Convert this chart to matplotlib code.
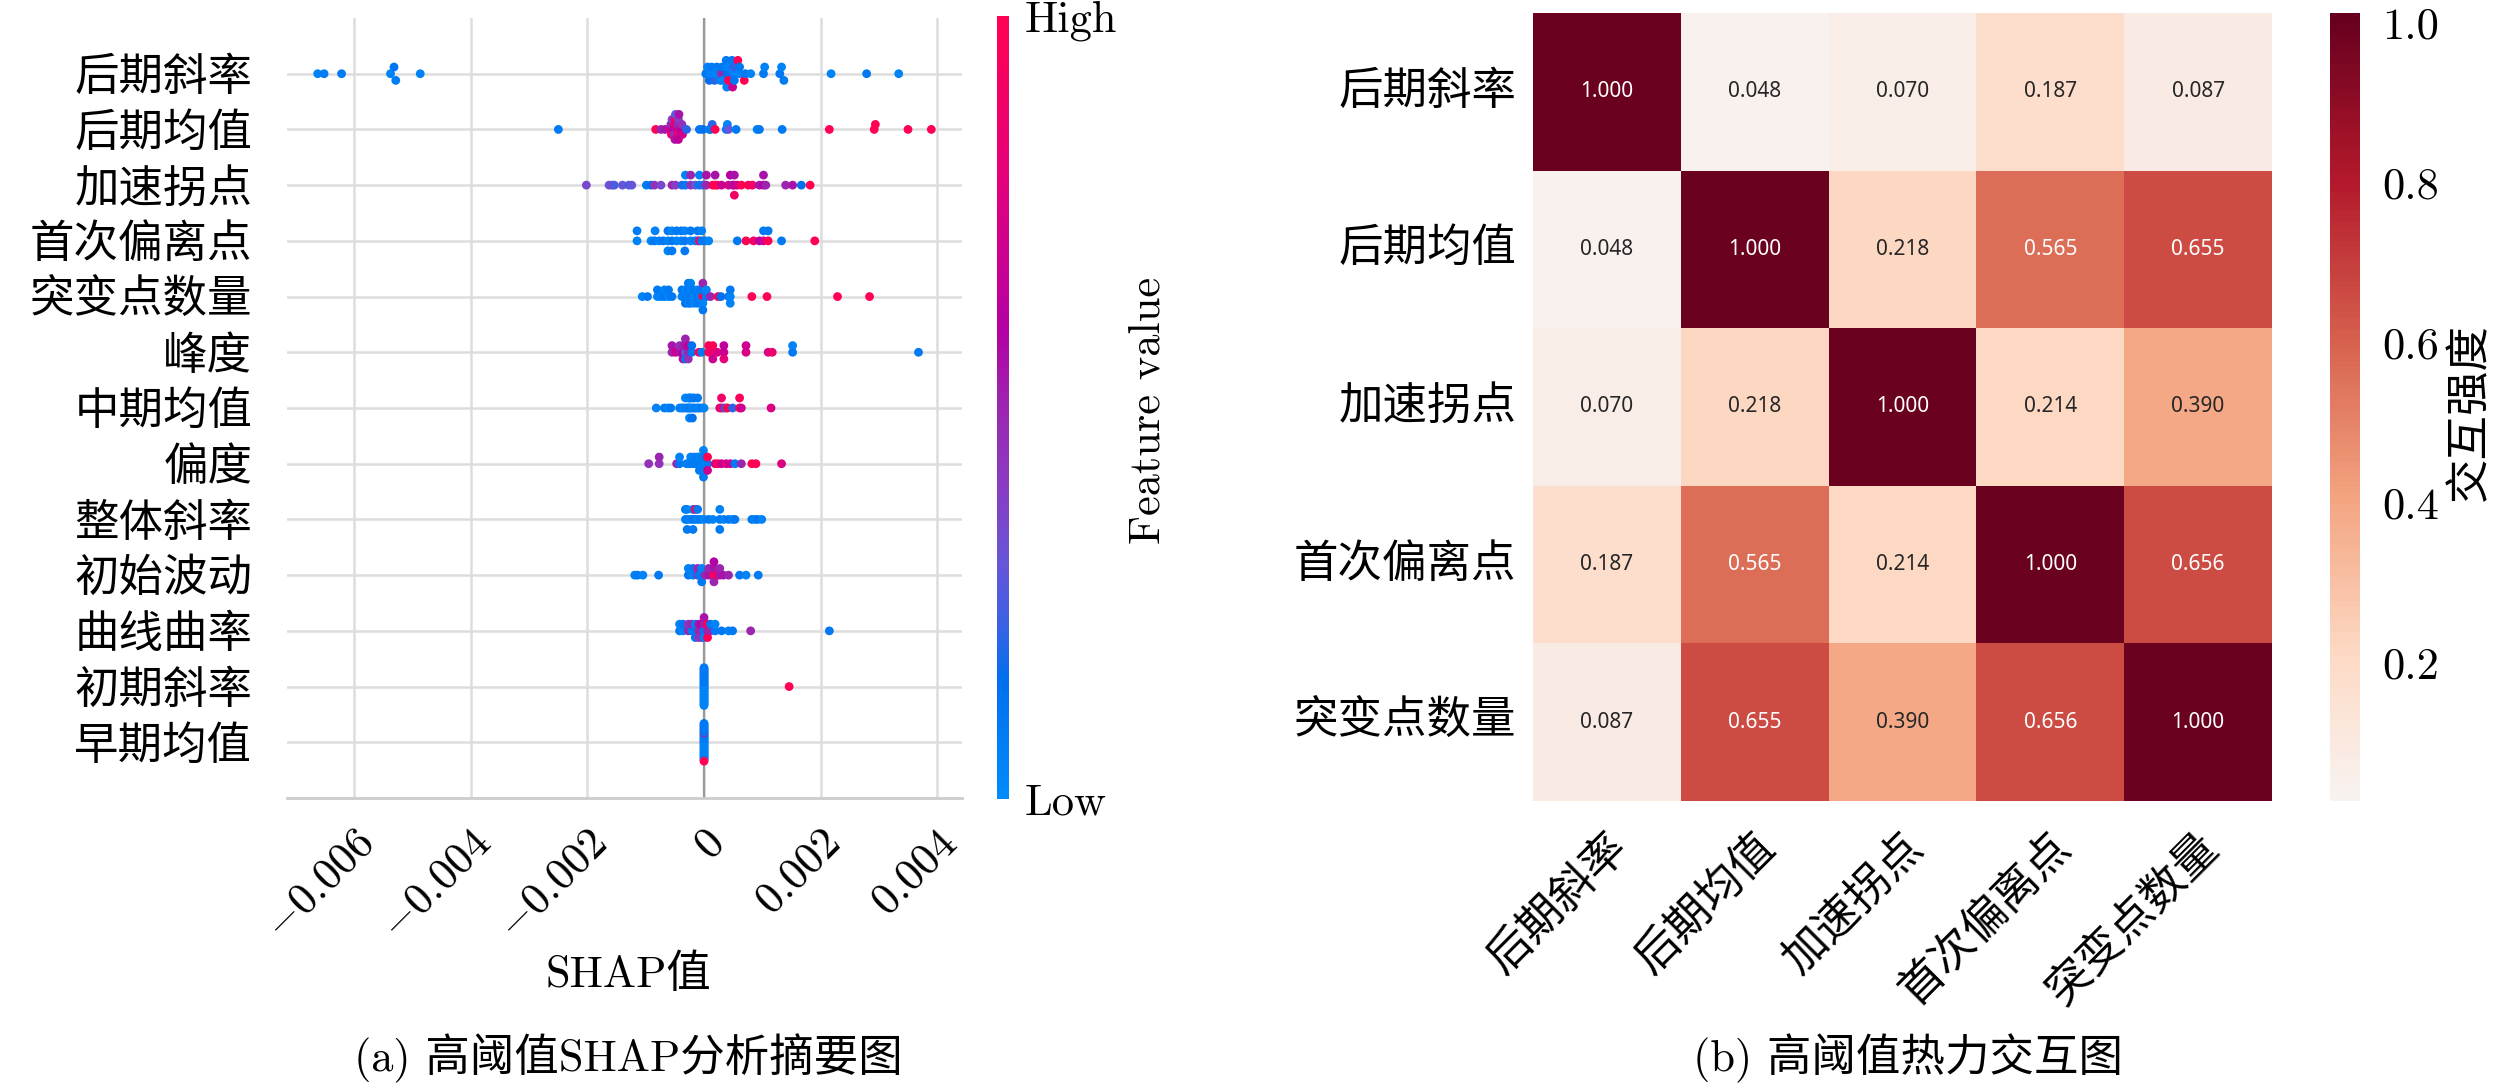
import numpy as np
import matplotlib
matplotlib.use("Agg")
import matplotlib.pyplot as plt
from matplotlib.colors import LinearSegmentedColormap
from matplotlib.cm import ScalarMappable
import seaborn as sns

# ---------------- data ----------------
# (a) SHAP summary: features top -> bottom, SHAP values in units of 1e-5,
# feature values scaled to 0 (low) .. 1 (high)
shap_unit = 1e-5
features = ["后期斜率", "后期均值", "加速拐点", "首次偏离点", "突变点数量", "峰度", "中期均值",
            "偏度", "整体斜率", "初始波动", "曲线曲率", "初期斜率", "早期均值"]

late_slope = [-663, -652, -622, -538, -532, -529, -487,
              3, 6, 9, 11, 13, 18, 20, 22, 28, 30, 31, 32, 38, 39, 40, 41, 42, 48,
              49, 50, 51, 52, 58, 60, 61, 69, 71, 80,
              102, 104, 130, 133, 137, 218, 279, 334]
late_slope_fv = [0.05, 0.08, 0.1, 0.05, 0.12, 0.08, 0.05,
                 0.1, 0.05, 0.15, 0.05, 0.1, 0.2, 0.05, 0.1, 0.05, 0.5, 0.1, 0.05, 0.1, 0.05, 0.15, 0.05, 1.0, 0.1,
                 0.7, 0.05, 0.2, 0.1, 1.0, 0.05, 0.1, 1.0, 0.1, 0.05,
                 0.1, 0.05, 0.1, 0.05, 0.08, 0.05, 0.1, 0.05]

late_mean = [-250, -83, -74, -67,
             -58, -57, -56, -55, -52, -51, -51, -50, -50, -49, -46, -45, -45, -44, -44, -43, -39, -38, -37,
             -30, -8, -2, 9, 11, 14, 19, 38, 40, 42, 55, 91, 95, 134, 215, 292, 294, 350, 390]
late_mean_fv = [0.1, 1.0, 0.5, 0.55,
                0.7, 0.5, 0.9, 0.35, 0.6, 0.75, 0.45, 0.9, 0.55, 0.3, 0.7, 0.5, 0.8, 0.4, 0.65, 0.55, 0.6, 0.45, 0.7,
                0.2, 0.1, 0.15, 0.05, 0.1, 0.2, 1.0, 0.1, 0.05, 0.3, 0.1, 0.05, 0.1, 0.1, 1.0, 1.0, 1.0, 1.0, 1.0]

accel_point = [-202, -163, -158, -154, -140, -129, -124, -99, -91, -85, -74, -55, -49, -38,
               -32, -32, -23, -23, -15, -8, -8, -2, 4, 4, 15, 19, 19, 23, 30, 42, 45, 49,
               52, 52, 52, 57, 64, 76, 83, 95, 102, 102, 106, 140, 152, 167, 182]
accel_point_fv = [0.35, 0.3, 0.35, 0.25, 0.3, 0.25, 0.3, 0.1, 0.15, 0.45, 0.35, 0.5, 0.4, 0.2,
                  0.1, 0.05, 0.45, 0.5, 0.3, 0.1, 0.05, 0.2, 0.5, 0.55, 0.95, 1.0, 0.55, 1.0, 0.7, 0.75, 0.6, 0.55,
                  0.65, 0.55, 0.9, 0.7, 1.0, 1.0, 0.9, 0.55, 0.6, 0.55, 0.5, 0.5, 0.55, 0.15, 1.0]

first_dev = [-115, -115, -91, -85, -84, -77, -70,
             -62, -62, -62, -55, -55, -55, -47, -47, -39, -39,
             -33, -33, -33, -23, -23, -15, -11, -11, -8, -4, -4,
             2, 8, 57, 72, 85, 95, 102, 102, 110, 110, 133, 190]
first_dev_fv = [0.05, 0.08, 0.05, 0.1, 0.05, 0.05, 0.1,
                0.05, 0.1, 0.05, 0.1, 0.05, 0.1, 0.05, 0.1, 0.05, 0.1,
                0.1, 0.05, 0.1, 0.05, 0.1, 0.1, 0.05, 0.1, 1.0, 0.1, 0.05,
                0.1, 0.05, 0.1, 1.0, 0.9, 0.6, 0.7, 0.1, 1.0, 0.1, 0.1, 1.0]

n_change = [-106, -97,
            -80, -80, -74, -68, -68, -61, -61, -55,
            -38, -38, -32, -32, -32, -27, -27, -27, -27, -23, -23, -23, -23,
            -17, -17, -17, -11, -11, -11, -6, -6, -2, -2, -2, -2, -2, 4, 4,
            11, 24, 29, 42, 45, 45, 45, 82, 108, 229, 284]
n_change_fv = [0.05, 0.1,
               0.05, 0.1, 0.05, 0.1, 0.05, 0.05, 0.1, 0.1,
               0.05, 0.1, 0.1, 0.05, 0.15, 0.05, 0.1, 0.05, 0.1, 0.1, 0.05, 0.1, 0.05,
               0.05, 0.1, 0.05, 0.1, 0.05, 0.1, 0.05, 0.1, 1.0, 0.1, 0.05, 0.5, 0.1, 0.1, 0.05,
               0.5, 1.0, 0.15, 0.1, 0.05, 0.1, 0.05, 1.0, 1.0, 1.0, 1.0]

kurtosis = [-55, -55, -49, -42, -42, -36, -36, -36, -32, -32, -32, -32, -27, -27, -27,
            -21, -21, -9, -4, 8, 8, 15, 15, 15, 23, 34, 34, 34, 72, 72, 110, 117, 152, 152, 368]
kurtosis_fv = [0.5, 0.55, 0.7, 0.55, 0.45, 0.6, 0.5, 0.7, 0.3, 0.55, 0.1, 0.5, 0.5, 0.65, 0.45,
               0.1, 0.15, 1.0, 0.1, 1.0, 0.95, 0.85, 1.0, 0.7, 0.75, 0.7, 0.65, 0.8, 0.75, 0.7, 0.75, 0.85,
               0.1, 0.05, 0.1]

mid_mean = [-82, -68, -62, -57, -42, -38, -36, -32, -32, -29, -27, -27, -25, -25, -25,
            -23, -23, -20, -20, -20, -17, -17, -14, -11, -11, -8, -4, 0,
            27, 30, 30, 34, 38, 40, 49, 61, 61, 64, 115]
mid_mean_fv = [0.05, 0.1, 0.05, 0.1, 0.05, 0.1, 0.05, 0.1, 0.05, 0.05, 0.1, 0.05, 0.05, 0.1, 0.05,
               0.1, 0.05, 0.05, 0.1, 0.15, 0.05, 0.1, 0.1, 0.05, 0.1, 0.05, 0.1, 0.05,
               0.7, 1.0, 0.9, 0.5, 0.1, 1.0, 0.2, 1.0, 0.95, 0.7, 0.75]

skewness = [-95, -77, -77, -47, -42, -42, -30, -27, -23, -23, -17, -17, -11, -11,
            -8, -8, -8, -4, -4, -4, -1, -1, -1, -1, -1, 2, 2, 2, 6, 6, 6,
            19, 24, 30, 38, 45, 53, 64, 82, 89, 133]
skewness_fv = [0.45, 0.45, 0.5, 0.5, 0.1, 0.05, 0.1, 0.05, 0.1, 0.05, 0.1, 0.05, 0.05, 0.1,
               0.1, 0.05, 0.1, 0.05, 0.1, 0.05, 0.1, 0.05, 0.1, 0.05, 0.1, 0.05, 0.1, 0.05, 0.1, 1.0, 0.7,
               0.75, 1.0, 0.7, 0.75, 0.7, 0.1, 0.5, 1.0, 1.0, 0.75]

overall_slope = [-32, -32, -29, -29, -29, -24, -19, -19, -19, -15, -15, -11, -11,
                 -6, 0, 8, 15, 27, 27, 27, 34, 42, 49, 53, 82, 87, 92, 99]
overall_slope_fv = [0.05, 0.1, 0.1, 0.05, 0.1, 0.05, 0.1, 0.05, 0.1, 0.1, 1.0, 0.05, 0.1,
                    0.1, 0.05, 0.1, 0.05, 0.1, 0.05, 0.1, 0.05, 0.1, 0.05, 0.1, 0.1, 0.05, 0.1, 0.05]

init_fluct = [-119, -114, -105, -78, -27, -27, -19, -19, -11, -11, -8, -4, -4, -4,
              2, 8, 8, 17, 17, 17, 17, 23, 27, 27, 33, 42, 61, 72, 93]
init_fluct_fv = [0.05, 0.1, 0.05, 0.1, 0.1, 0.05, 0.05, 0.1, 0.45, 0.5, 0.1, 0.1, 0.05, 0.1,
                 0.5, 0.55, 0.5, 1.0, 0.55, 0.5, 0.6, 0.9, 0.55, 0.5, 0.55, 0.5, 0.1, 0.05, 0.1]

curvature = [-42, -42, -36, -36, -27, -27, -21, -21, -15, -15, -15, -9, -9, -9, -4, -4, -4,
             0, 0, 0, 0, 6, 6, 6, 11, 11, 19, 19, 30, 42, 49, 80, 215]
curvature_fv = [0.1, 0.05, 0.05, 0.1, 0.5, 0.45, 0.1, 0.5, 0.1, 0.05, 0.1, 0.5, 0.55, 0.45, 0.5, 0.6, 0.45,
                0.1, 0.5, 0.05, 0.55, 0.5, 1.0, 1.0, 0.5, 0.1, 0.1, 0.05, 0.1, 0.05, 0.1, 0.5, 0.1]

early_slope = [0, 0, 0, 0, 0, 0, 0, 0, 0, 0, 0, 0, 0, 0, 0, 0, 0, 0, 0, 0,
               0, 0, 0, 0, 0, 0, 0, 0, 0, 0, 0, 0, 0, 146]
early_slope_fv = [0.05, 0.1, 0.05, 0.1, 0.05, 0.1, 0.05, 0.1, 0.05, 0.1, 0.05, 0.1, 0.05, 0.1, 0.05, 0.1, 0.05, 0.1, 0.05, 0.1,
                  0.05, 0.1, 0.05, 0.1, 0.05, 0.1, 0.05, 0.1, 0.05, 0.1, 0.05, 0.1, 0.05, 1.0]

early_mean = [0, 0, 0, 0, 0, 0, 0, 0, 0, 0, 0, 0, 0, 0, 0, 0, 0, 0, 0, 0,
              0, 0, 0, 0, 0, 0, 0, 0, 0, 0, 0, 0, 0]
early_mean_fv = [0.05, 0.1, 0.05, 0.1, 0.05, 0.1, 0.05, 0.1, 0.05, 0.1, 0.05, 0.1, 0.05, 0.1, 0.05, 0.5, 0.05, 0.1, 0.05, 0.1,
                 0.05, 0.1, 0.05, 0.1, 0.05, 0.1, 0.05, 0.1, 0.05, 0.1, 0.05, 0.1, 1.0]

shap_rows = [late_slope, late_mean, accel_point, first_dev, n_change, kurtosis, mid_mean,
             skewness, overall_slope, init_fluct, curvature, early_slope, early_mean]
fv_rows = [late_slope_fv, late_mean_fv, accel_point_fv, first_dev_fv, n_change_fv, kurtosis_fv, mid_mean_fv,
           skewness_fv, overall_slope_fv, init_fluct_fv, curvature_fv, early_slope_fv, early_mean_fv]

xticks = [-0.006, -0.004, -0.002, 0, 0.002, 0.004]
xtick_labels = ["$-0.006$", "$-0.004$", "$-0.002$", "$0$", "$0.002$", "$0.004$"]

# (b) interaction heatmap
heat_labels = ["后期斜率", "后期均值", "加速拐点", "首次偏离点", "突变点数量"]
heat_values = np.array([
    [1.000, 0.048, 0.070, 0.187, 0.087],
    [0.048, 1.000, 0.218, 0.565, 0.655],
    [0.070, 0.218, 1.000, 0.214, 0.390],
    [0.187, 0.565, 0.214, 1.000, 0.656],
    [0.087, 0.655, 0.390, 0.656, 1.000],
])
heat_cbar_ticks = [0.2, 0.4, 0.6, 0.8, 1.0]
heat_vmin, heat_vmax = 0.028, 1.012

# ---------------- style ----------------
sns.set_style("whitegrid")
plt.rcParams["font.family"] = ["cmr10", "DejaVu Serif", "Noto Sans CJK SC"]
plt.rcParams["mathtext.fontset"] = "cm"
plt.rcParams["axes.unicode_minus"] = False
for key in ["text.color", "axes.labelcolor", "xtick.color", "ytick.color"]:
    plt.rcParams[key] = "black"

FS = 32
W, H = 2520, 1087
fig = plt.figure(figsize=(W / 100, H / 100), dpi=100)


def rect(x0, y0, x1, y1):
    # pixel box (top-left origin) -> figure fraction
    return [x0 / W, 1 - y1 / H, (x1 - x0) / W, (y1 - y0) / H]


shap_cmap = LinearSegmentedColormap.from_list("shap_red_blue", [
    (0.0, "#008bfb"), (0.15, "#0070ef"), (0.22, "#3a62e4"), (0.3, "#6655d8"),
    (0.4, "#8a3cc2"), (0.5, "#9c26b0"), (0.6, "#b400a4"), (0.8, "#e6007a"), (1.0, "#ff0052")])


def swarm_offsets(vals, nbins=100, row_height=0.4):
    # beeswarm layering as in shap's summary plot
    vals = np.asarray(vals, float)
    quant = np.round(nbins * (vals - vals.min()) / (vals.max() - vals.min() + 1e-8))
    order = np.argsort(quant, kind="stable")
    ys = np.zeros(len(vals))
    layer, last = 0, None
    for k in order:
        if quant[k] != last:
            layer = 0
        ys[k] = np.ceil(layer / 2) * ((layer % 2) * 2 - 1)
        layer += 1
        last = quant[k]
    ys *= 0.9 * (row_height / np.max(ys + 1))
    return ys


# ---------------- (a) SHAP summary ----------------
ax = fig.add_axes(rect(287, 18, 962, 798))
n = len(features)
for i, (sv, fv) in enumerate(zip(shap_rows, fv_rows)):
    pos = n - 1 - i
    x = np.asarray(sv, float) * shap_unit
    ax.scatter(x, pos + swarm_offsets(x), c=fv, cmap=shap_cmap, vmin=0, vmax=1,
               s=40, linewidths=0, zorder=3)
ax.axvline(0, color="#999999", lw=1.6, zorder=2)
ax.set_ylim(-1, n)
ax.set_yticks(range(n))
ax.set_yticklabels(features[::-1], fontsize=FS)
ax.set_xticks(xticks)
ax.set_xticklabels(xtick_labels, fontsize=FS, rotation=45, ha="right", rotation_mode="anchor")
ax.grid(True, color="#dddddd", lw=1.8)
ax.set_axisbelow(True)
for side in ["left", "top", "right"]:
    ax.spines[side].set_visible(False)
ax.spines["bottom"].set_color("#cccccc")
ax.spines["bottom"].set_linewidth(2)
ax.tick_params(axis="y", length=0, pad=25)
ax.tick_params(axis="x", length=0, pad=18)

cax = fig.add_axes(rect(997, 16, 1009, 799))
sm = ScalarMappable(cmap=shap_cmap, norm=plt.Normalize(0, 1))
cb = fig.colorbar(sm, cax=cax, ticks=[0, 1])
cb.set_ticklabels(["Low", "High"])
cb.outline.set_visible(False)
cax.tick_params(length=0, labelsize=FS, pad=11)
fig.text(1148 / W, 1 - 410 / H, "Feature value", rotation=90, ha="center", va="center", fontsize=FS)
fig.text(628 / W, 1 - 975 / H, "SHAP值", ha="center", va="center", fontsize=FS)
fig.text(628 / W, 1 - 1058 / H, "(a) 高阈值SHAP分析摘要图", ha="center", va="center", fontsize=FS)

# ---------------- (b) heatmap ----------------
hax = fig.add_axes(rect(1533, 13, 2272, 801))
hcax = fig.add_axes(rect(2330, 13, 2360, 801))
sns.heatmap(heat_values, ax=hax, cbar_ax=hcax, cmap="RdBu_r", center=0,
            vmin=heat_vmin, vmax=heat_vmax, annot=True, fmt=".3f",
            annot_kws={"fontsize": 15, "family": "Noto Sans"},
            xticklabels=heat_labels, yticklabels=heat_labels)
hax.grid(False)
hax.set_yticklabels(heat_labels, rotation=0, fontsize=FS)
hax.set_xticklabels(heat_labels, rotation=45, ha="right", rotation_mode="anchor", fontsize=FS)
hax.tick_params(axis="y", length=0, pad=12)
hax.tick_params(axis="x", length=0, pad=18)
hcax.set_yticks(heat_cbar_ticks)
hcax.tick_params(length=0, labelsize=FS, pad=16)
fig.text(2471 / W, 1 - 412 / H, "交互强度", rotation=90, ha="center", va="center", fontsize=FS)
fig.text(1908 / W, 1 - 1058 / H, "(b) 高阈值热力交互图", ha="center", va="center", fontsize=FS)

fig.savefig("out.png", dpi=100)
